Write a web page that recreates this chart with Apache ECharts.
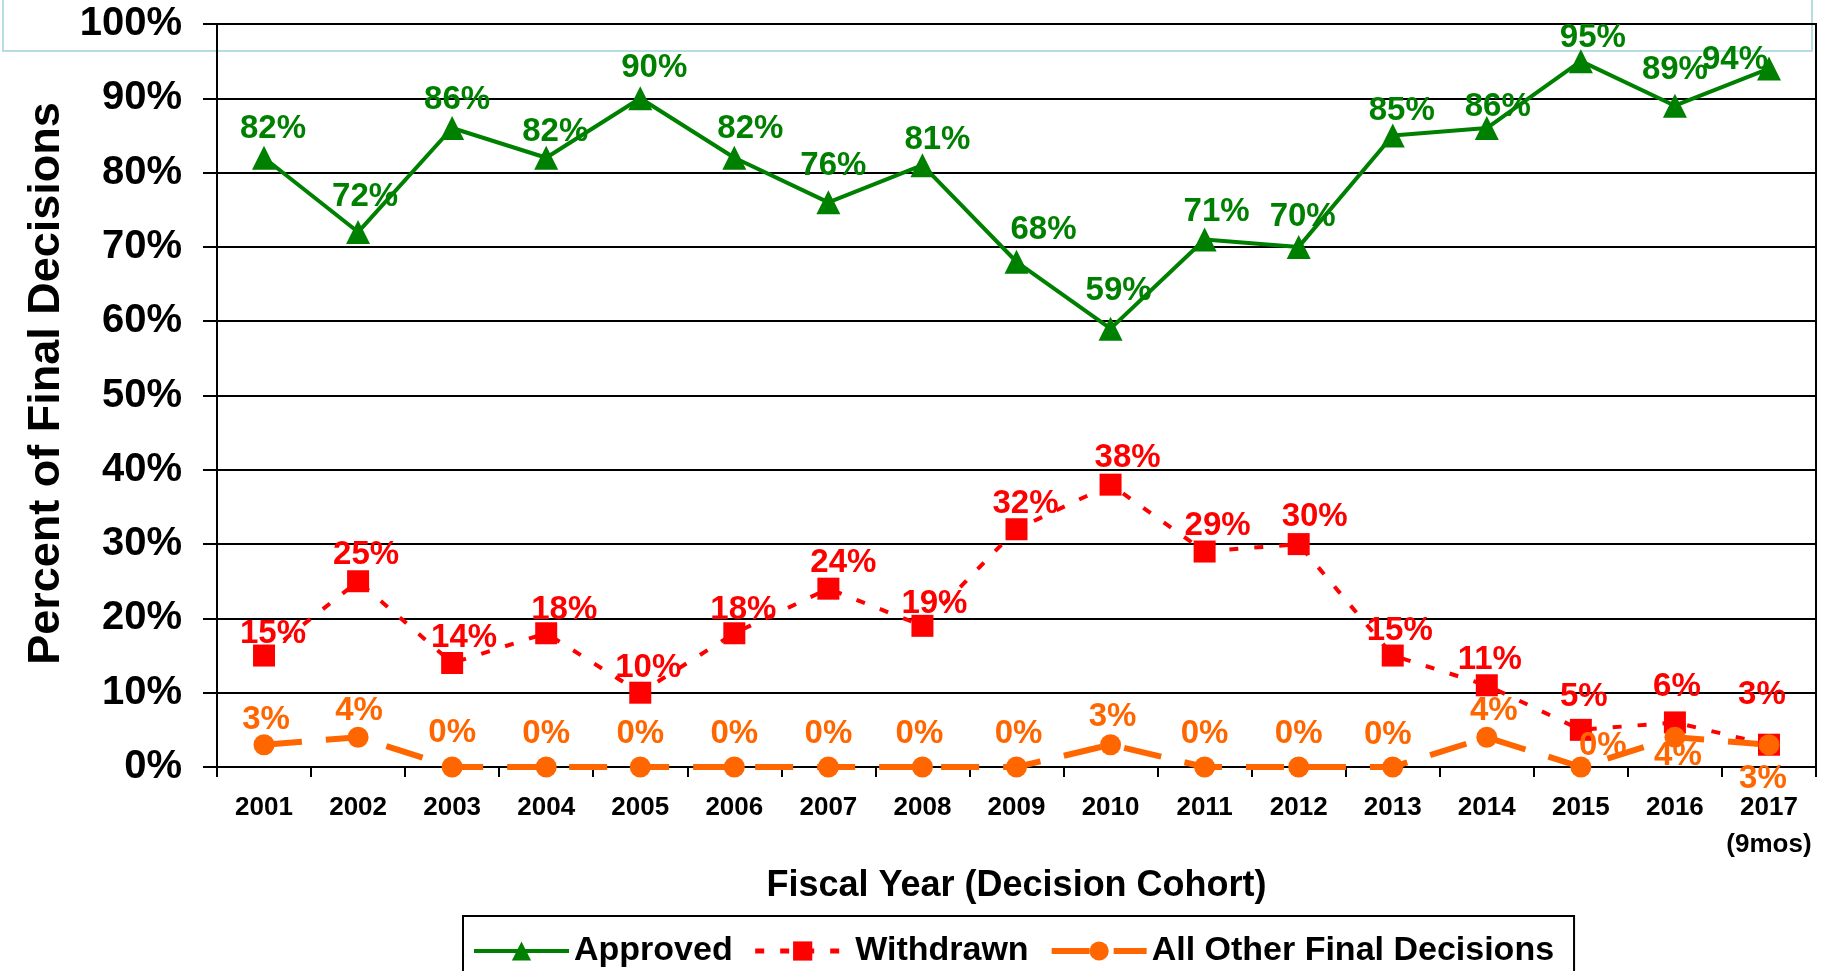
<!DOCTYPE html>
<html>
<head>
<meta charset="utf-8">
<title>Percent of Final Decisions</title>
<script src="https://cdn.jsdelivr.net/npm/echarts@6/dist/echarts.min.js"></script>
<style>
  html, body { margin: 0; padding: 0; background: #fff; }
  #chart { width: 1833px; height: 971px; }
</style>
</head>
<body>
<div id="chart"></div>
<script>
// fiscal years (decision cohort)
var years = ['2001', '2002', '2003', '2004', '2005', '2006', '2007', '2008', '2009',
  '2010', '2011', '2012', '2013', '2014', '2015', '2016', '2017'];

// percent of final decisions
var approved = [82, 72, 86, 82, 90, 82, 76, 81, 68, 59, 71, 70, 85, 86, 95, 89, 94];
var withdrawn = [15, 25, 14, 18, 10, 18, 24, 19, 32, 38, 29, 30, 15, 11, 5, 6, 3];
var allOther = [3, 4, 0, 0, 0, 0, 0, 0, 0, 3, 0, 0, 0, 4, 0, 4, 3];

var yTicks = [0, 10, 20, 30, 40, 50, 60, 70, 80, 90, 100];

// where each value label sits relative to its marker (px)
var approvedLabelPos = [[9, -29], [7, -35], [5, -28], [9, -26], [14, -30], [16, -29], [5, -36], [15, -25],
  [27, -32], [8, -38], [12, -28], [4, -30], [9, -25], [11, -21], [12, -23], [0, -36], [-34, -9]];
var withdrawnLabelPos = [[9, -22], [8, -26], [12, -25], [18, -23], [8, -25], [9, -23], [15, -26], [12, -22],
  [9, -25], [17, -27], [13, -26], [16, -27], [7, -25], [3, -25], [3, -33], [2, -36], [-7, -50]];
var otherLabelPos = [[2, -25], [1, -26], [0, -34], [0, -33], [0, -33], [0, -33], [0, -33], [-3, -33],
  [2, -33], [2, -28], [0, -33], [0, -33], [-5, -32], [7, -26], [22, -21], [3, 19], [-6, 34]];

var FONT = '"Liberation Sans", Arial, sans-serif';

function withLabels(values, pos) {
  return values.map(function (v, i) {
    return { value: v, label: { offset: pos[i] } };
  });
}

function valueLabel(color) {
  return {
    show: true,
    position: 'inside',
    formatter: '{c}%',
    color: color,
    fontFamily: FONT,
    fontWeight: 'bold',
    fontSize: 33,
    textBorderWidth: 0
  };
}

var chart = echarts.init(document.getElementById('chart'));

var option = {
  animation: false,
  backgroundColor: '#fff',
  textStyle: { fontFamily: FONT },
  graphic: [{
    type: 'rect',
    z: -1,
    silent: true,
    shape: { x: 3, y: -6, width: 1809, height: 57 },
    style: { fill: 'none', stroke: '#b7dce2', lineWidth: 2 }
  }],
  grid: {
    left: 217,
    right: 17,
    top: 24,
    bottom: 204,
    show: true,
    borderColor: '#000',
    borderWidth: 2
  },
  legend: {
    left: 463,
    top: 916,
    padding: [18, 20, 20, 9],
    itemGap: 20,
    itemWidth: 95,
    itemHeight: 24,
    borderColor: '#000',
    borderWidth: 2,
    textStyle: { fontFamily: FONT, fontWeight: 'bold', fontSize: 34, color: '#000' },
    data: [
      { name: 'Approved', lineStyle: { width: 4 } },
      { name: 'Withdrawn', lineStyle: { width: 5 } },
      { name: 'All Other Final Decisions', lineStyle: { width: 6 } }
    ]
  },
  xAxis: {
    type: 'category',
    data: years,
    name: 'Fiscal Year (Decision Cohort)',
    nameLocation: 'middle',
    nameGap: 92,
    nameTextStyle: { fontFamily: FONT, fontWeight: 'bold', fontSize: 36, color: '#000' },
    axisLine: { lineStyle: { color: '#000', width: 2 } },
    axisTick: { show: true, length: 10, lineStyle: { color: '#000', width: 2 } },
    axisLabel: {
      interval: 0,
      margin: 22,
      color: '#000',
      fontFamily: FONT,
      fontWeight: 'bold',
      fontSize: 26,
      lineHeight: 37,
      formatter: function (v) { return v === '2017' ? '2017\n(9mos)' : v; }
    }
  },
  yAxis: {
    type: 'value',
    min: yTicks[0],
    max: yTicks[yTicks.length - 1],
    interval: yTicks[1] - yTicks[0],
    name: 'Percent of Final Decisions',
    nameLocation: 'middle',
    nameGap: 147,
    nameTextStyle: {
      fontFamily: FONT, fontWeight: 'bold', fontSize: 45, color: '#000',
      padding: [0, 0, 0, 24]
    },
    axisLine: { show: true, lineStyle: { color: '#000', width: 2 } },
    axisTick: { show: true, length: 14, lineStyle: { color: '#000', width: 2 } },
    axisLabel: {
      margin: 35,
      color: '#000',
      fontFamily: FONT,
      fontWeight: 'bold',
      fontSize: 40,
      formatter: '{value}%'
    },
    splitLine: { lineStyle: { color: '#000', width: 2 } }
  },
  series: [
    {
      name: 'Approved',
      type: 'line',
      data: withLabels(approved, approvedLabelPos),
      symbol: 'triangle',
      symbolSize: 24,
      itemStyle: { color: '#008000' },
      lineStyle: { color: '#008000', width: 4 },
      label: valueLabel('#008000')
    },
    {
      name: 'Withdrawn',
      type: 'line',
      data: withLabels(withdrawn, withdrawnLabelPos),
      symbol: 'rect',
      symbolSize: 22,
      itemStyle: { color: '#ff0000' },
      lineStyle: { color: '#ff0000', width: 4, type: [9, 16] },
      label: valueLabel('#ff0000')
    },
    {
      name: 'All Other Final Decisions',
      type: 'line',
      data: withLabels(allOther, otherLabelPos),
      symbol: 'circle',
      symbolSize: 21,
      itemStyle: { color: '#ff6600' },
      lineStyle: { color: '#ff6600', width: 6, type: [38, 24] },
      label: valueLabel('#ff6600')
    }
  ]
};

chart.setOption(option);
</script>
</body>
</html>
